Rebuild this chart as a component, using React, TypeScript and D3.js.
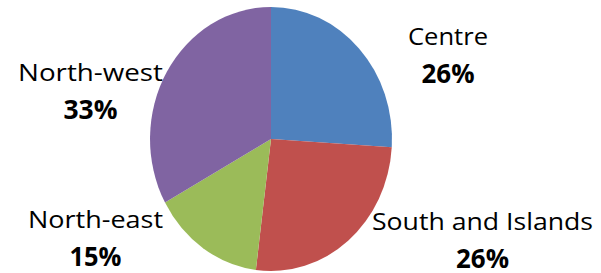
import React from "react";
import * as d3 from "d3";

const categories = ["Centre", "South and Islands", "North-east", "North-west"];
const values = [26, 26, 15, 33];
const colors = ["#4F81BD", "#C0504D", "#9BBB59", "#8064A2"];

// label placement (layout only)
const labelPos: [number, number][] = [
  [448, 45],
  [482.5, 230],
  [95.5, 228],
  [90.5, 81],
];
const labelWidths = [80, 221, 135, 145];
const pctWidths = [53, 53, 52, 54];

export default function App() {
  const W = 601;
  const H = 273;
  const cx = 271;
  const cy = 139;
  const rx = 121;
  const ry = 132;
  const pie = d3.pie<number>().sort(null).value((d) => d);
  const arcs = pie(values);
  const arc = d3.arc<d3.PieArcDatum<number>>().innerRadius(0).outerRadius(1);
  const font = "'Open Sans', Lato, sans-serif";
  return (
    <svg
      width={W}
      height={H}
      style={{ position: "absolute", left: 0, top: 0, background: "#fff" }}
    >
      <g transform={`translate(${cx},${cy}) scale(${rx},${ry})`}>
        {arcs.map((a, i) => (
          <path key={i} d={arc(a) || ""} fill={colors[i]} />
        ))}
      </g>
      {categories.map((c, i) => (
        <g key={c} fontFamily={font} fill="#000" textAnchor="middle">
          <text
            x={labelPos[i][0]}
            y={labelPos[i][1]}
            fontSize={24}
            fontWeight={500}
            textLength={labelWidths[i]}
            lengthAdjust="spacingAndGlyphs"
          >
            {c}
          </text>
          <text
            x={labelPos[i][0]}
            y={labelPos[i][1] + 38}
            fontSize={26}
            fontWeight="bold"
            textLength={pctWidths[i]}
            lengthAdjust="spacingAndGlyphs"
          >
            {values[i]}%
          </text>
        </g>
      ))}
    </svg>
  );
}
